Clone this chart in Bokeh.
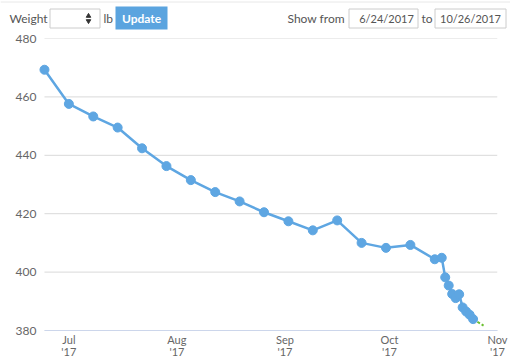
import pandas as pd
from bokeh.plotting import figure
from bokeh.models import Range1d, FixedTicker, ColumnDataSource
from bokeh.core.properties import value
from bokeh.embed import file_html
from bokeh.resources import INLINE

# ---- data ----
dates = ["2017-06-24", "2017-07-01", "2017-07-08", "2017-07-15", "2017-07-22",
         "2017-07-29", "2017-08-05", "2017-08-12", "2017-08-19", "2017-08-26",
         "2017-09-02", "2017-09-09", "2017-09-16", "2017-09-23", "2017-09-30",
         "2017-10-07", "2017-10-14", "2017-10-16", "2017-10-17", "2017-10-18",
         "2017-10-19", "2017-10-20", "2017-10-21", "2017-10-22", "2017-10-23",
         "2017-10-24", "2017-10-25"]
weights = [469.3, 457.6, 453.3, 449.5, 442.4,
           436.3, 431.5, 427.4, 424.2, 420.5,
           417.4, 414.3, 417.7, 410.0, 408.3,
           409.3, 404.4, 404.9, 398.2, 395.4,
           392.5, 391.1, 392.4, 387.9, 386.5,
           385.4, 383.9]
trend_dates = ["2017-10-25", "2017-10-28"]
trend_weights = [383.9, 381.7]
y_ticks = [380, 400, 420, 440, 460, 480]
x_tick_dates = ["2017-07-01", "2017-08-01", "2017-09-01", "2017-10-01", "2017-11-01"]
x_tick_labels = ["Jul\n'17", "Aug\n'17", "Sep\n'17", "Oct\n'17", "Nov\n'17"]
x_start, x_end = "2017-06-24", "2017-11-01"
x_pad_start = "2017-06-22"        # a little room so the first marker is not clipped
y_start, y_end = 380, 480
from_date, to_date = "6/24/2017", "10/26/2017"

FONT = "Lato"
W = 510
HH = 30                       # header height

# ---- header controls (separate root; data coords == page px) ----
hdr = figure(width=W, height=HH, x_range=Range1d(0, W), y_range=Range1d(HH, 0),
             output_backend="svg", toolbar_location=None, min_border=0,
             x_axis_location=None, y_axis_location=None)
hdr.grid.visible = False
hdr.outline_line_color = None

def htext(x, txt, align="left", color="#555555", style="normal", size="12px", y=18):
    hdr.text(x=[x], y=[y], text=[txt], text_font=value(FONT), text_font_size=size,
             text_color=color, text_align=align, text_baseline="middle",
             text_font_style=style)

def hbox(l, r, t, b, fill, line):
    hdr.quad(left=[l], right=[r], top=[t], bottom=[b], fill_color=fill,
             line_color=line, line_width=1)

hdr.segment(x0=[0], x1=[W], y0=[1.5], y1=[1.5], line_color="#e8e8e8", line_width=1)
htext(9, "Weight")
hbox(49.5, 99.5, 8.5, 27.5, "white", "#cccccc")
hdr.scatter(x=[88], y=[15.5], marker="triangle", size=4.5, color="#333333")
hdr.scatter(x=[88], y=[20.5], marker="inverted_triangle", size=4.5, color="#333333")
htext(103, "lb")
hbox(115, 167, 6, 29, "#5ba4df", None)
htext(141, "Update", align="center", color="white", style="bold")
htext(287, "Show from")
hbox(348.5, 417.5, 8.5, 27.5, "white", "#cccccc")
htext(386, from_date, align="center", size="11px")
htext(421, "to")
hbox(434.5, 505.5, 8.5, 27.5, "white", "#cccccc")
htext(470, to_date, align="center", size="11px")

# ---- chart ----
p = figure(width=W, height=360 - HH, x_axis_type="datetime",
           x_range=Range1d(pd.Timestamp(x_pad_start), pd.Timestamp(x_end)),
           y_range=Range1d(y_start, y_end),
           output_backend="svg", toolbar_location=None,
           min_border_left=37, min_border_right=W - 497, min_border_top=38 - HH,
           min_border_bottom=28)
p.outline_line_color = None
p.grid.grid_line_color = None

# horizontal grid lines spanning the original date window
p.segment(x0=[pd.Timestamp(x_start)] * len(y_ticks), x1=[pd.Timestamp(x_end)] * len(y_ticks),
          y0=y_ticks, y1=y_ticks, line_color="#d9d9d9", line_width=1)

p.yaxis.ticker = FixedTicker(ticks=y_ticks)
p.yaxis.axis_line_color = None
p.yaxis.major_tick_line_color = None
p.yaxis.minor_tick_line_color = None
p.yaxis.major_tick_out = 0
p.yaxis.major_label_standoff = 1
p.yaxis.major_label_text_font = FONT
p.yaxis.major_label_text_font_size = "12px"
p.yaxis.major_label_text_color = "#666666"

tick_ms = [pd.Timestamp(d).value // 10**6 for d in x_tick_dates]
p.xaxis.ticker = FixedTicker(ticks=tick_ms)
p.xaxis.bounds = (pd.Timestamp(x_start).value // 10**6, pd.Timestamp(x_end).value // 10**6)
p.xaxis.major_label_overrides = {t: lab for t, lab in zip(tick_ms, x_tick_labels)}
p.xaxis.axis_line_color = "#ccd6eb"
p.xaxis.major_tick_line_color = None
p.xaxis.minor_tick_line_color = None
p.xaxis.major_tick_out = 0
p.xaxis.major_tick_in = 0
p.xaxis.major_label_standoff = 2
p.xaxis.major_label_text_font = FONT
p.xaxis.major_label_text_font_size = "11px"
p.xaxis.major_label_text_line_height = 0.95
p.xaxis.major_label_text_color = "#666666"

src = ColumnDataSource(dict(x=pd.to_datetime(dates), y=weights))
tsrc = ColumnDataSource(dict(x=pd.to_datetime(trend_dates), y=trend_weights))
p.line("x", "y", source=tsrc, line_color="#6abf2e", line_width=2, line_dash="3 2")
p.line("x", "y", source=src, line_color="#5ea6e2", line_width=2.5)
p.scatter("x", "y", source=src, size=9, fill_color="#5ea6e2", line_color="#5ea6e2")

open("out.html", "w").write(file_html([hdr, p], INLINE))
